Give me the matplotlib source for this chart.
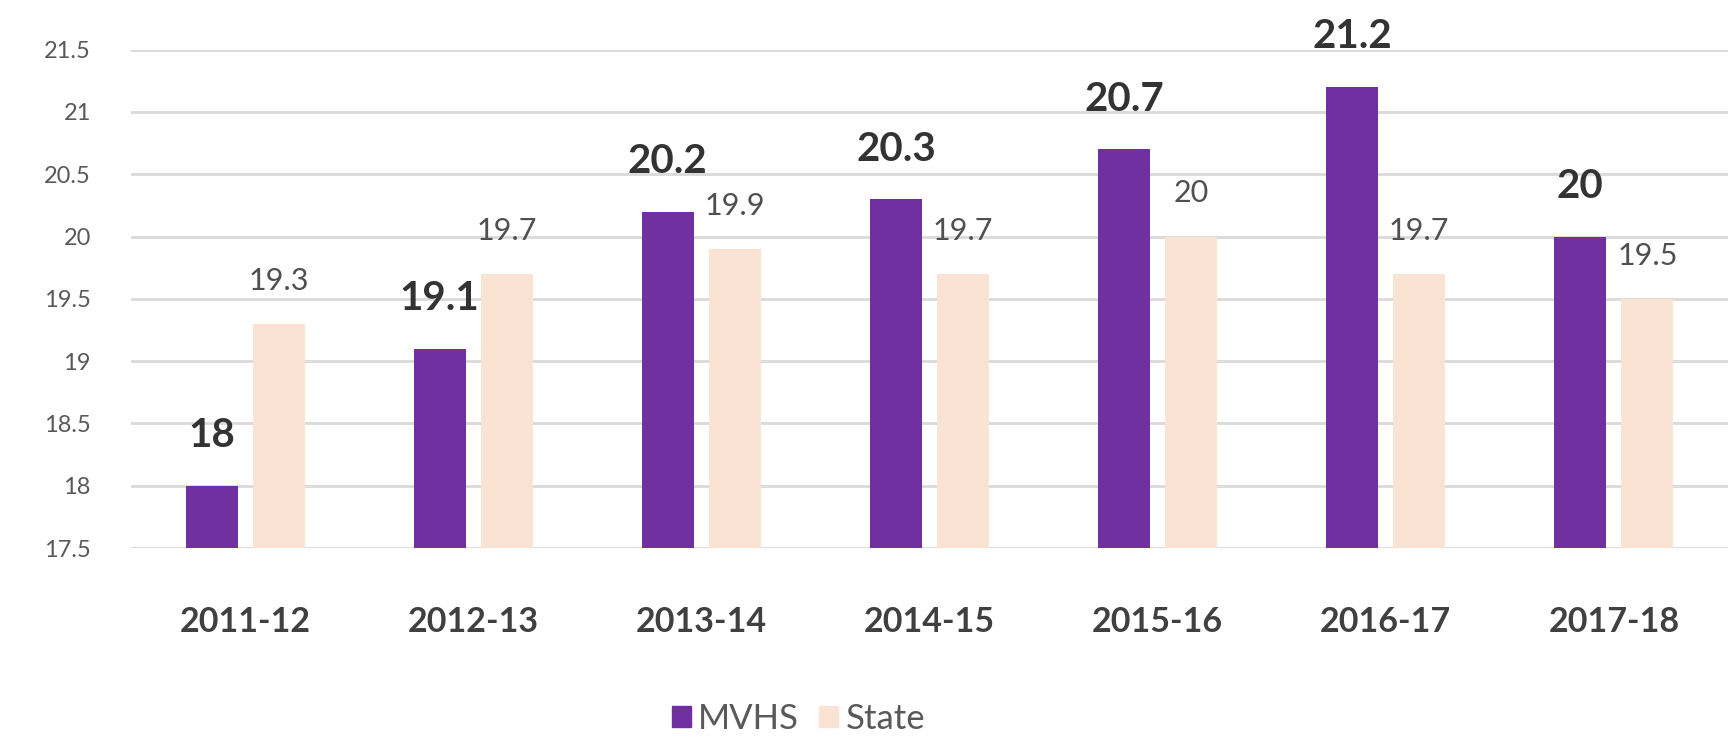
import numpy as np
import matplotlib
matplotlib.use("Agg")
import matplotlib.pyplot as plt
from matplotlib.patches import Patch

# Данные
years = ["2011-12", "2012-13", "2013-14", "2014-15", "2015-16", "2016-17", "2017-18"]
mvhs = [18.0, 19.1, 20.2, 20.3, 20.7, 21.2, 20.0]
state = [19.3, 19.7, 19.9, 19.7, 20.0, 19.7, 19.5]
y_ticks = [17.5, 18, 18.5, 19, 19.5, 20, 20.5, 21, 21.5]
y_tick_labels = ["17.5", "18", "18.5", "19", "19.5", "20", "20.5", "21", "21.5"]

PURPLE = "#7030A0"
PEACH = "#FBE3D4"

plt.rcParams["font.family"] = ["Lato", "DejaVu Sans"]

fig = plt.figure(figsize=(17.29, 7.37), dpi=100)
ax = fig.add_axes([0.0758, 0.2564, 0.9236, 0.6763])

x = np.arange(len(years))
w = 0.228
off = 0.147
ax.bar(x - off, mvhs, width=w, color=PURPLE, zorder=3)
ax.bar(x + off, state, width=w, color=PEACH, zorder=3)

ax.set_xlim(-0.5, len(years) - 0.5)
ax.set_ylim(17.5, 21.5)
ax.set_yticks(y_ticks)
ax.set_yticklabels(y_tick_labels)
ax.set_xticks(x)
ax.set_xticklabels(years, fontweight="bold")

ax.tick_params(axis="y", length=0, pad=29, labelsize=17, labelcolor="#595959")
ax.tick_params(axis="x", length=0, pad=42, labelsize=24.5, labelcolor="#404040")
ax.grid(axis="y", color="#D9D9D9", linewidth=2, zorder=0)
ax.set_axisbelow(True)
for s in ax.spines.values():
    s.set_visible(False)

# Подписи значений
for i in range(len(years)):
    ax.annotate(f"{mvhs[i]:g}", (x[i] - off, mvhs[i]), xytext=(0, 36),
                textcoords="offset points", ha="center", va="center",
                fontsize=29, fontweight="bold", color="#333333",
                annotation_clip=False)
    ax.annotate(f"{state[i]:g}", (x[i] + off, state[i]), xytext=(0, 31),
                textcoords="offset points", ha="center", va="center",
                fontsize=22, color="#505050", annotation_clip=False)

handles = [Patch(color=PURPLE, label="MVHS"), Patch(color=PEACH, label="State")]
fig.legend(handles=handles, loc="center", bbox_to_anchor=(0.4617, 0.0244),
           ncol=2, frameon=False, fontsize=25, labelcolor="#595959",
           handlelength=0.55, handleheight=0.55, handletextpad=0.2,
           columnspacing=0.6, borderpad=0)

fig.savefig("out.png", dpi=100, facecolor="white")
